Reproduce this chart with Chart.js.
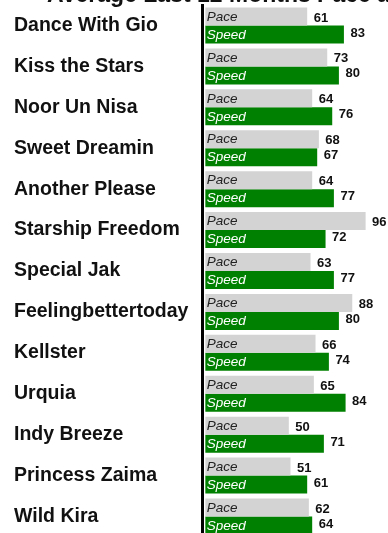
<!DOCTYPE html>
<html>
<head>
<meta charset="utf-8">
<script src="https://cdn.jsdelivr.net/npm/chart.js@4"></script>
<style>
  html, body { margin: 0; padding: 0; background: #fff; overflow: hidden; }
</style>
</head>
<body>
<canvas id="paceChart" width="388" height="537"></canvas>
<script>
const horses = ['Dance With Gio', 'Kiss the Stars', 'Noor Un Nisa', 'Sweet Dreamin', 'Another Please',
    'Starship Freedom', 'Special Jak', 'Feelingbettertoday', 'Kellster', 'Urquia',
    'Indy Breeze', 'Princess Zaima', 'Wild Kira'];
const pace = [61, 73, 64, 68, 64, 96, 63, 88, 66, 65, 50, 51, 62];
const speed = [83, 80, 76, 67, 77, 72, 77, 80, 74, 84, 71, 61, 64];

const FONT = "'Liberation Sans', Arial, sans-serif";

// title, bar names and values drawn straight onto the canvas
const barText = {
    id: 'barText',
    afterDatasetsDraw(chart) {
        const ctx = chart.ctx;
        const base = chart.scales.x.getPixelForValue(0);
        ctx.save();
        ctx.textBaseline = 'middle';
        chart.data.datasets.forEach((ds, i) => {
            const meta = chart.getDatasetMeta(i);
            meta.data.forEach((bar, j) => {
                ctx.textAlign = 'left';
                ctx.font = 'italic 13.5px ' + FONT;
                ctx.fillStyle = i === 0 ? '#222' : '#fff';
                ctx.fillText(ds.label, base + 1.5, bar.y + 0.5);
                ctx.font = 'bold 13px ' + FONT;
                ctx.fillStyle = '#111';
                ctx.fillText(ds.data[j], bar.x + 6.5, bar.y + (i === 0 ? 1.5 : -1.5));
            });
        });
        ctx.textBaseline = 'alphabetic';
        ctx.font = 'bold 23px ' + FONT;
        ctx.fillStyle = '#111';
        ctx.fillText('Average Last 12 Months Pace and Speed', 47, 1.5);
        ctx.restore();
    }
};

new Chart(document.getElementById('paceChart').getContext('2d'), {
    type: 'bar',
    data: {
        labels: horses,
        datasets: [{
            label: 'Pace',
            data: pace,
            backgroundColor: '#d3d3d3',
            categoryPercentage: 0.88,
            barPercentage: 1.0
        }, {
            label: 'Speed',
            data: speed,
            backgroundColor: '#008000',
            categoryPercentage: 0.88,
            barPercentage: 1.0
        }]
    },
    options: {
        indexAxis: 'y',
        responsive: false,
        animation: false,
        layout: { padding: { top: 5, left: 14, right: 15.7, bottom: 0 } },
        plugins: {
            legend: { display: false },
            tooltip: { enabled: false }
        },
        scales: {
            x: { display: false, min: -2, max: 100 },
            y: {
                afterFit(scale) {
                    scale.width = 188;
                    scale.paddingTop = 0;
                    scale.paddingBottom = 0;
                },
                grid: { display: false },
                border: { display: true, color: '#000', width: 3 },
                ticks: {
                    crossAlign: 'far',
                    color: '#111',
                    font: { family: FONT, size: 19.5, weight: 'bold' }
                }
            }
        }
    },
    plugins: [barText]
});
</script>
</body>
</html>
